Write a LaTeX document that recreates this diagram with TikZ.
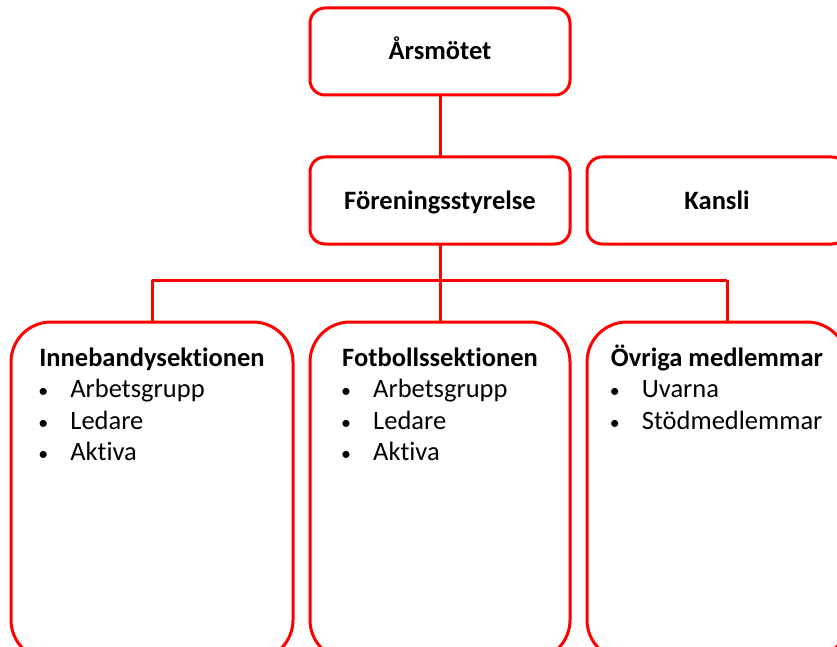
\documentclass[tikz,border=0pt]{standalone}
\usepackage{fontspec}
\setmainfont{Carlito}[Ligatures=NoCommon]
\begin{document}
\begin{tikzpicture}[x=1pt,y=-1pt,
  box/.style={draw=red,line width=3pt,fill=white,rounded corners=15pt},
  secbox/.style={draw=red,line width=3pt,fill=white,rounded corners=40pt},
  conn/.style={draw=red,line width=3pt},
  lbl/.style={font=\fontsize{26.5}{31.5}\selectfont\bfseries,inner sep=0pt,anchor=base},
  sec/.style={font=\fontsize{26.5}{31.5}\selectfont,inner sep=0pt,anchor=north,align=left}]
\useasboundingbox (0,0) rectangle (837,647);
\clip (0,0) rectangle (837,647);
\newcommand{\bitem}[1]{\makebox[31pt][l]{\hspace*{-1pt}\scalebox{0.75}{\textbullet}}#1}
% connectors
\coordinate (hl) at (152,280);
\coordinate (hr) at (727,280);
\coordinate (hm) at (440,280);
\draw[conn] (440,95) -- (440,157);
\draw[conn] (440,244) -- (hm);
\draw[conn] (hl) -- (hr);
\draw[conn] (hl) -- (152,322);
\draw[conn] (hm) -- (440,322);
\draw[conn] (hr) -- (727,322);
% boxes
\draw[box] (310,8) rectangle (570,95);
\node[lbl] (ars) at (440,60) {Årsmötet};
\draw[box] (310,157) rectangle (570,244);
\node[lbl] (for) at (440,209) {Föreningsstyrelse};
\draw[box] (587,157) rectangle (847,244);
\node[lbl] (kan) at (717,209) {Kansli};
\draw[secbox] (11,322) rectangle (293,660);
\draw[secbox] (310,322) rectangle (570,660);
\draw[secbox] (587,322) rectangle (847,660);
\node[sec] (inb) at (152,344) {\begin{tabular}{@{}l@{}}\textbf{Innebandysektionen}\\\bitem{Arbetsgrupp}\\\bitem{Ledare}\\\bitem{Aktiva}\end{tabular}};
\node[sec] (fot) at (440,344) {\begin{tabular}{@{}l@{}}\textbf{Fotbollssektionen}\\\bitem{Arbetsgrupp}\\\bitem{Ledare}\\\bitem{Aktiva}\end{tabular}};
\node[sec] (ovr) at (717,344) {\begin{tabular}{@{}l@{}}\textbf{Övriga medlemmar}\\\bitem{Uvarna}\\\bitem{Stödmedlemmar}\end{tabular}};
\end{tikzpicture}
\end{document}
